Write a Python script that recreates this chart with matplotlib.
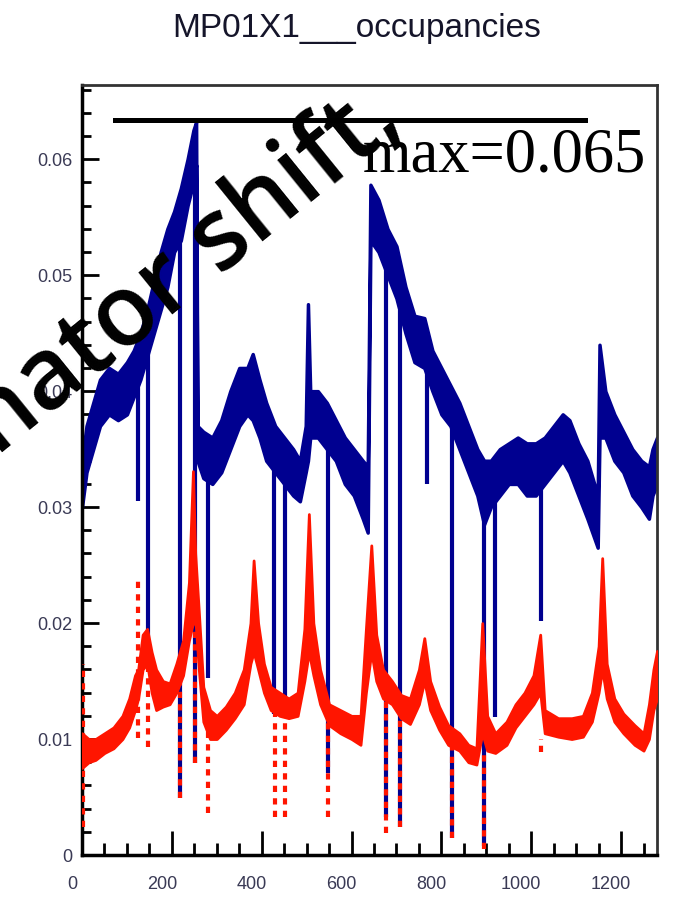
import numpy as np
import matplotlib.pyplot as plt
import matplotlib.transforms as mtransforms
from matplotlib.lines import Line2D
from matplotlib.ticker import MultipleLocator, FixedFormatter, FixedLocator

# ---------------- values ----------------
# blue histogram: band (low / high edge) at channel positions
blue_ch = [0, 10, 25, 40, 60, 80, 100, 115, 130, 145, 160, 175, 190, 205, 220, 235,
           248, 254, 257, 270, 290, 310, 330, 350, 368, 380, 395, 410, 430, 450, 470,
           485, 498, 503, 508, 525, 545, 565, 585, 605, 625, 636, 638, 642, 660, 680,
           700, 720, 740, 762, 780, 800, 820, 840, 860, 880, 895, 910, 930, 950, 970,
           990, 1010, 1030, 1050, 1070, 1085, 1105, 1125, 1148, 1152, 1165, 1185, 1205,
           1225, 1245, 1262, 1270, 1280]
blue_lo = [0.030, 0.033, 0.035, 0.037, 0.038, 0.0375, 0.038, 0.0395, 0.041, 0.043, 0.045,
           0.047, 0.049, 0.052, 0.053, 0.056, 0.058, 0.0595, 0.034, 0.0325, 0.032, 0.033,
           0.035, 0.037, 0.038, 0.0375, 0.036, 0.034, 0.033, 0.032, 0.031, 0.0305, 0.033,
           0.034, 0.036, 0.036, 0.035, 0.034, 0.032, 0.031, 0.029, 0.0278, 0.036, 0.053,
           0.052, 0.050, 0.048, 0.045, 0.0425, 0.042, 0.040, 0.038, 0.037, 0.035, 0.033,
           0.031, 0.0285, 0.030, 0.031, 0.032, 0.032, 0.031, 0.031, 0.032, 0.033, 0.034,
           0.033, 0.031, 0.029, 0.0265, 0.036, 0.036, 0.034, 0.033, 0.031, 0.030, 0.029,
           0.031, 0.032]
blue_hi = [0.034, 0.037, 0.039, 0.041, 0.042, 0.0415, 0.0425, 0.0435, 0.045, 0.047, 0.0495,
           0.052, 0.054, 0.0555, 0.0575, 0.060, 0.0625, 0.0632, 0.037, 0.0365, 0.036, 0.0375,
           0.040, 0.042, 0.042, 0.0432, 0.041, 0.039, 0.037, 0.036, 0.035, 0.034, 0.037,
           0.0475, 0.040, 0.040, 0.039, 0.0375, 0.036, 0.035, 0.034, 0.0335, 0.041, 0.0578,
           0.0565, 0.054, 0.0525, 0.049, 0.0465, 0.0463, 0.0435, 0.042, 0.0405, 0.039,
           0.037, 0.035, 0.034, 0.034, 0.035, 0.0355, 0.036, 0.0355, 0.0355, 0.036, 0.037,
           0.038, 0.0375, 0.0355, 0.034, 0.031, 0.044, 0.040, 0.038, 0.0365, 0.035, 0.034,
           0.0335, 0.035, 0.036]

# blue single-channel drops
blue_dip_ch = [125, 147, 218, 251, 281, 427, 451, 547, 677, 708, 767, 824, 896, 920, 1022]
blue_dip_top = [0.041, 0.044, 0.054, 0.059, 0.033, 0.034, 0.033, 0.036, 0.051, 0.047,
                0.042, 0.037, 0.031, 0.031, 0.032]
blue_dip_bottom = [0.0305, 0.0183, 0.0049, 0.0079, 0.0153, 0.0122, 0.0131, 0.0071, 0.0033,
                   0.0024, 0.032, 0.0015, 0.0008, 0.0119, 0.0202]

# red histogram band
red_ch = [0, 15, 30, 50, 70, 90, 105, 118, 125, 135, 145, 155, 165, 180, 195, 210, 225,
          238, 247, 252, 260, 270, 285, 300, 320, 340, 360, 375, 382, 392, 405, 420, 440,
          460, 480, 495, 505, 515, 530, 550, 575, 600, 620, 632, 644, 655, 670, 690, 710,
          730, 750, 762, 775, 795, 815, 840, 860, 878, 891, 902, 920, 945, 965, 985, 1005,
          1020, 1030, 1060, 1090, 1115, 1135, 1150, 1158, 1168, 1185, 1205, 1230, 1250,
          1262, 1272, 1280]
red_lo = [0.0075, 0.0080, 0.0082, 0.0088, 0.0092, 0.0100, 0.0110, 0.0125, 0.0135, 0.0160,
          0.0165, 0.0140, 0.0125, 0.0128, 0.0130, 0.0140, 0.0155, 0.0185, 0.0200, 0.0205,
          0.0160, 0.0115, 0.0100, 0.0100, 0.0108, 0.0118, 0.0130, 0.0165, 0.0175, 0.0160,
          0.0140, 0.0125, 0.0120, 0.0118, 0.0120, 0.0150, 0.0175, 0.0155, 0.0130, 0.0112,
          0.0105, 0.0100, 0.0095, 0.0140, 0.0175, 0.0150, 0.0135, 0.0130, 0.0118, 0.0113,
          0.0130, 0.0150, 0.0125, 0.0108, 0.0095, 0.0090, 0.0080, 0.0078, 0.0105, 0.0090,
          0.0088, 0.0095, 0.0110, 0.0120, 0.0130, 0.0140, 0.0105, 0.0102, 0.0100, 0.0102,
          0.0115, 0.0140, 0.0160, 0.0135, 0.0115, 0.0105, 0.0095, 0.0090, 0.0100, 0.0125,
          0.0135]
red_hi = [0.0105, 0.0100, 0.0100, 0.0105, 0.0110, 0.0120, 0.0135, 0.0155, 0.0160, 0.0190,
          0.0195, 0.0175, 0.0160, 0.0150, 0.0148, 0.0165, 0.0185, 0.0235, 0.0331, 0.0260,
          0.0210, 0.0145, 0.0125, 0.0120, 0.0128, 0.0140, 0.0160, 0.0200, 0.0254, 0.0200,
          0.0165, 0.0145, 0.0140, 0.0135, 0.0140, 0.0195, 0.0294, 0.0200, 0.0160, 0.0130,
          0.0125, 0.0120, 0.0120, 0.0195, 0.0267, 0.0190, 0.0160, 0.0150, 0.0138, 0.0135,
          0.0160, 0.0187, 0.0150, 0.0128, 0.0112, 0.0105, 0.0095, 0.0092, 0.0200, 0.0120,
          0.0105, 0.0115, 0.0130, 0.0140, 0.0155, 0.0190, 0.0125, 0.0118, 0.0118, 0.0120,
          0.0140, 0.0180, 0.0256, 0.0165, 0.0135, 0.0122, 0.0112, 0.0105, 0.0130, 0.0160,
          0.0176]

# red single-channel excursions
red_dip_ch = [3, 125, 147, 218, 251, 281, 429, 451, 547, 677, 708, 824, 896, 1022]
red_dip_top = [0.0165, 0.0240, 0.0190, 0.0170, 0.0220, 0.0110, 0.0130, 0.0130, 0.0120,
               0.0140, 0.0120, 0.0100, 0.0090, 0.0100]
red_dip_bottom = [0.0024, 0.0101, 0.0093, 0.0049, 0.0079, 0.0036, 0.0033, 0.0033, 0.0033,
                  0.0019, 0.0024, 0.0015, 0.0005, 0.0089]

x_ticks = [0, 200, 400, 600, 800, 1000, 1200]
y_ticks = [0, 0.01, 0.02, 0.03, 0.04, 0.05, 0.06]
y_labels = ['0', '0.01', '0.02', '0.03', '0.04', '0.05', '0.06']

# ---------------- figure ----------------
W, H = 676, 897
fig = plt.figure(figsize=(W / 100, H / 100), dpi=100)
ax = fig.add_axes([82 / W, 1 - 855 / H, 575 / W, 770 / H])

navy = '#000090'
red = '#ff1500'

ax.fill_between(blue_ch, blue_lo, blue_hi, color=navy, edgecolor=navy, lw=2.5, zorder=2)
ax.vlines(blue_dip_ch, blue_dip_bottom, blue_dip_top, colors=navy, lw=3, zorder=2)
ax.fill_between(red_ch, red_lo, red_hi, color=red, edgecolor=red, lw=2.0, zorder=3)
ax.vlines(red_dip_ch, red_dip_bottom, red_dip_top, colors=red, lw=3,
          linestyles=[(0, (1.5, 1.5))], zorder=4)

ax.set_xlim(0, 1280)
ax.set_ylim(0, 0.0664)

ax.xaxis.set_major_locator(FixedLocator(x_ticks))
ax.xaxis.set_major_formatter(FixedFormatter([str(v) for v in x_ticks]))
ax.xaxis.set_minor_locator(MultipleLocator(50))
ax.yaxis.set_major_locator(FixedLocator(y_ticks))
ax.yaxis.set_major_formatter(FixedFormatter(y_labels))
ax.yaxis.set_minor_locator(MultipleLocator(0.002))

lab_col = '#3a3a55'
ax.tick_params(axis='x', which='major', direction='in', length=17, width=2, pad=15,
               labelsize=13, labelcolor=lab_col)
ax.tick_params(axis='x', which='minor', direction='in', length=9, width=2)
ax.tick_params(axis='y', which='major', direction='in', length=12, width=2, pad=7,
               labelsize=13, labelcolor=lab_col)
ax.tick_params(axis='y', which='minor', direction='in', length=6.5, width=2)
for lbl in ax.get_xticklabels() + ax.get_yticklabels():
    lbl.set_family('Liberation Sans')

# tick labels sit a little left of their ticks in the original
shift = mtransforms.ScaledTranslation(-0.10, 0, fig.dpi_scale_trans)
for lbl in ax.get_xticklabels():
    lbl.set_transform(lbl.get_transform() + shift)

for side in ['left', 'bottom']:
    ax.spines[side].set_linewidth(2.5)
for side in ['top', 'right']:
    ax.spines[side].set_linewidth(2)
    ax.spines[side].set_color('#333333')

fig.text(357 / W, 1 - 28 / H, 'MP01X1___occupancies', ha='center', va='center',
         fontsize=24, family='Liberation Sans', color='#15152a')

# overlay annotations
fig.add_artist(Line2D([115 / W, 585 / W], [1 - 120 / H, 1 - 120 / H], color='black', lw=3.6))
fig.text(363 / W, 1 - 172 / H, 'max=0.065', ha='left', va='baseline',
         fontsize=45, family='Liberation Serif', color='black')
fig.text(405 / W, 1 - 126 / H, 'discriminator shift,', ha='right', va='baseline',
         rotation=39, rotation_mode='anchor', fontsize=71, fontweight='semibold',
         family='Open Sans', color='black')

fig.savefig('out.png', dpi=100)
